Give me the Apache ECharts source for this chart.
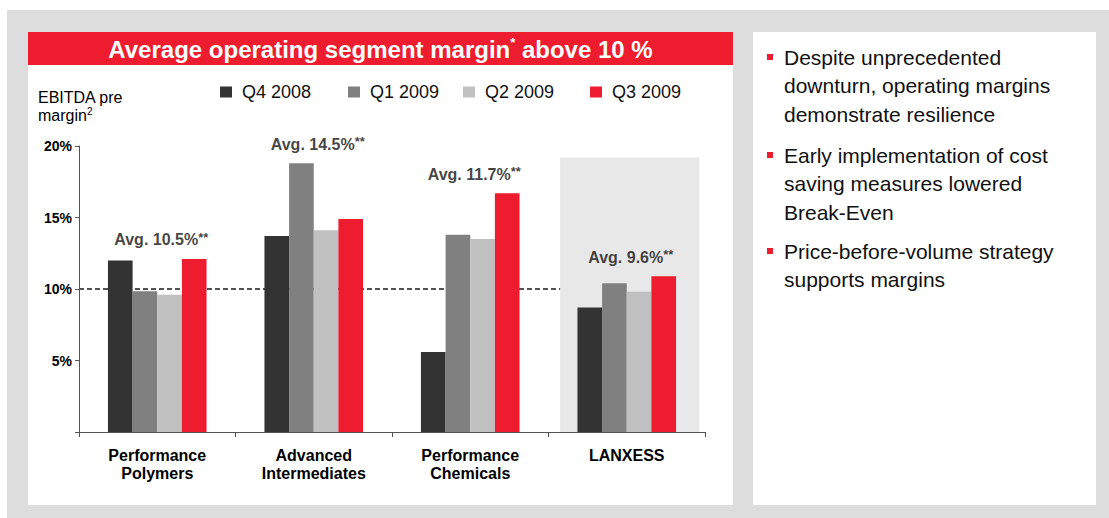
<!DOCTYPE html>
<html>
<head>
<meta charset="utf-8">
<script src="https://cdn.jsdelivr.net/npm/echarts@6/dist/echarts.min.js"></script>
<style>
html,body{margin:0;padding:0;background:#fff;}
#chart{width:1109px;height:518px;}
</style>
</head>
<body>
<div id="chart"></div>
<script>
// ---- data ----
const CATEGORIES = ['Performance\nPolymers', 'Advanced\nIntermediates', 'Performance\nChemicals', 'LANXESS'];
const SERIES_NAMES = ['Q4 2008', 'Q1 2009', 'Q2 2009', 'Q3 2009'];
const Q4_2008 = [12.0, 13.7, 5.6, 8.7];
const Q1_2009 = [9.85, 18.8, 13.8, 10.4];
const Q2_2009 = [9.6, 14.1, 13.5, 9.8];
const Q3_2009 = [12.1, 14.9, 16.7, 10.9];
const AVERAGES = ['10.5%', '14.5%', '11.7%', '9.6%'];
const Y_TICKS = [0, 5, 10, 15, 20];
const THRESHOLD = 10;
const HIGHLIGHT_CATEGORY = 'LANXESS';
const TITLE = 'Average operating segment margin{sup|*} above 10 %';
const Y_NAME = 'EBITDA pre\nmargin{sup|2}';
const BULLETS = [
  'Despite unprecedented\ndownturn, operating margins\ndemonstrate resilience',
  'Early implementation of cost\nsaving measures lowered\nBreak-Even',
  'Price-before-volume strategy\nsupports margins'
];

// ---- style / layout ----
const SERIES_VALUES = [Q4_2008, Q1_2009, Q2_2009, Q3_2009];
const COLORS = ['#333333', '#808080', '#c0c0c0', '#ed1c2e'];
const FONT = '"Liberation Sans", Arial, sans-serif';
const LEGEND_X = [220, 348, 463, 590];
const BULLET_TOPS = [42.75, 140.75, 236.75];
const HIGHLIGHT_TOP = 19.2;

const chart = echarts.init(document.getElementById('chart'), null, {renderer: 'svg'});

const groupMax = CATEGORIES.map((c, i) => Math.max(...SERIES_VALUES.map(s => s[i])));

const graphics = [
  {type: 'rect', z: -10, shape: {x: 7, y: 10, width: 1102, height: 508}, style: {fill: '#dddddd'}},
  {type: 'rect', z: -9, shape: {x: 28, y: 32, width: 705, height: 473}, style: {fill: '#ffffff'}},
  {type: 'rect', z: -9, shape: {x: 753, y: 32, width: 343, height: 473}, style: {fill: '#ffffff'}},
  {type: 'rect', z: -8, shape: {x: 28, y: 32, width: 705, height: 33}, style: {fill: '#ed1c2e'}},
  {type: 'text', z: 5, x: 380.5, y: 49,
    style: {text: TITLE, fill: '#ffffff', fontFamily: FONT, fontSize: 24, fontWeight: 'bold',
      align: 'center', verticalAlign: 'middle',
      rich: {sup: {fill: '#ffffff', fontFamily: FONT, fontSize: 13, fontWeight: 'bold', verticalAlign: 'top', lineHeight: 26}}}},
  {type: 'text', z: 5, x: 38, y: 88,
    style: {text: Y_NAME, fill: '#000000', fontFamily: FONT, fontSize: 16, lineHeight: 18, verticalAlign: 'top',
      rich: {sup: {fill: '#000000', fontFamily: FONT, fontSize: 10, verticalAlign: 'top', lineHeight: 18}}}}
];
BULLETS.forEach((t, i) => {
  graphics.push({type: 'rect', z: 5, shape: {x: 767, y: BULLET_TOPS[i] + 11.25, width: 6, height: 6}, style: {fill: '#ed1c2e'}});
  graphics.push({type: 'text', z: 5, x: 784, y: BULLET_TOPS[i],
    style: {text: t, fill: '#111111', fontFamily: FONT, fontSize: 21, lineHeight: 28.5, verticalAlign: 'top'}});
});

const series = SERIES_NAMES.map((name, i) => ({
  name: name,
  type: 'bar',
  z: 3,
  xAxisIndex: 0,
  barGap: '0%',
  barCategoryGap: '37%',
  itemStyle: {color: COLORS[i]},
  data: SERIES_VALUES[i]
}));

series.push({
  type: 'line',
  name: 'threshold',
  xAxisIndex: 1,
  z: 1,
  symbol: 'none',
  silent: true,
  lineStyle: {color: '#1a1a1a', width: 1.5, type: [5, 3]},
  data: [[0, THRESHOLD], [CATEGORIES.indexOf(HIGHLIGHT_CATEGORY) + 0.5, THRESHOLD]]
});

series.push({
  type: 'custom',
  name: 'highlight',
  xAxisIndex: 0,
  z: 2,
  silent: true,
  renderItem: function (params, api) {
    const top = api.coord([api.value(0), api.value(1)]);
    const bottom = api.coord([api.value(0), 0]);
    const w = api.size([1, 0])[0] * 0.89;
    return {type: 'rect', shape: {x: top[0] - w / 2 + 3, y: top[1], width: w, height: bottom[1] - top[1]},
      style: {fill: '#e8e8e8'}};
  },
  data: [[CATEGORIES.indexOf(HIGHLIGHT_CATEGORY), HIGHLIGHT_TOP]]
});

series.push({
  type: 'scatter',
  name: 'avg',
  xAxisIndex: 0,
  z: 4,
  symbolSize: 0,
  silent: true,
  label: {
    show: true, position: 'top', distance: 10, offset: [4, 0],
    formatter: p => '{a|Avg. ' + AVERAGES[p.dataIndex] + '}{s|**}',
    rich: {
      a: {fontFamily: FONT, fontSize: 16, fontWeight: 'bold', color: '#111111', lineHeight: 18},
      s: {fontFamily: FONT, fontSize: 13, fontWeight: 'bold', color: '#111111', verticalAlign: 'top', lineHeight: 18}
    }
  },
  data: groupMax.map((v, i) => [i, v])
});

const legends = SERIES_NAMES.map((n, i) => ({
  data: [n],
  left: LEGEND_X[i],
  top: 83,
  padding: 0,
  itemWidth: 12,
  itemHeight: 11,
  icon: 'rect',
  selectedMode: false,
  textStyle: {fontFamily: FONT, fontSize: 18, color: '#111111', padding: [0, 0, 0, 5]}
}));

chart.setOption({
  animation: false,
  backgroundColor: '#ffffff',
  textStyle: {fontFamily: FONT},
  graphic: graphics,
  legend: legends,
  grid: {left: 79, right: 404, top: 146, bottom: 86, containLabel: false},
  xAxis: [{
    type: 'category',
    data: CATEGORIES,
    z: 10,
    axisLine: {show: true, lineStyle: {color: '#555555', width: 1}},
    axisTick: {show: true, length: 5, lineStyle: {color: '#555555'}},
    axisLabel: {interval: 0, margin: 14, fontFamily: FONT, fontSize: 16, fontWeight: 'bold', lineHeight: 18, color: '#000000'},
    splitLine: {show: false}
  }, {
    type: 'value',
    min: 0,
    max: CATEGORIES.length,
    show: false
  }],
  yAxis: {
    type: 'value',
    min: Y_TICKS[0],
    max: Y_TICKS[Y_TICKS.length - 1],
    interval: Y_TICKS[1] - Y_TICKS[0],
    z: 10,
    axisLine: {show: true, lineStyle: {color: '#555555', width: 1}},
    axisTick: {show: true, length: 4, lineStyle: {color: '#555555'}},
    axisLabel: {margin: 7, fontFamily: FONT, fontSize: 14, fontWeight: 'bold', color: '#000000',
      formatter: v => (v === 0 ? '' : v + '%')},
    splitLine: {show: false}
  },
  series: series
});
</script>
</body>
</html>
